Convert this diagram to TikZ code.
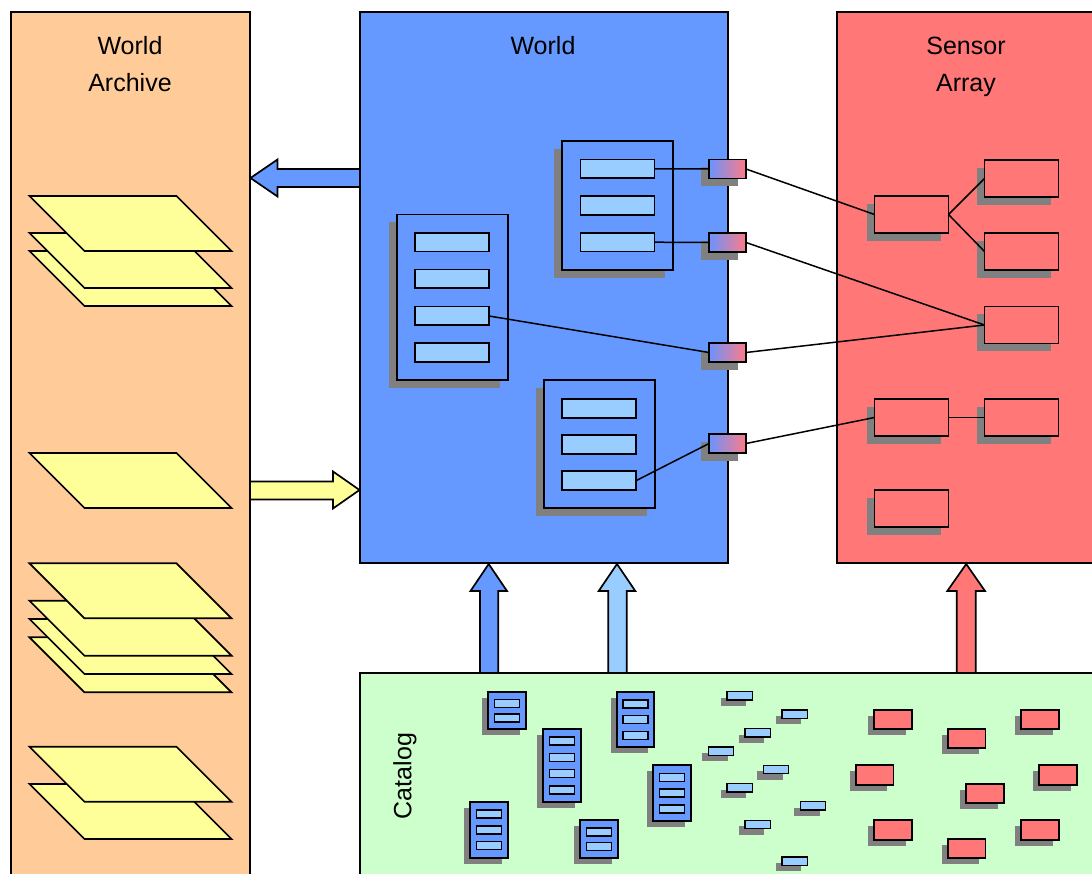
\documentclass[tikz,border=0pt]{standalone}
\usepackage{fontspec}
\setmainfont{Liberation Sans}
\usetikzlibrary{shadows}
\definecolor{archiveC}{HTML}{FFCC99}
\definecolor{worldC}{HTML}{6699FF}
\definecolor{sensorC}{HTML}{FF7777}
\definecolor{catalogC}{HTML}{CCFFCC}
\definecolor{rowC}{HTML}{99CCFF}
\definecolor{yellowC}{HTML}{FFFF99}
\definecolor{shadowC}{HTML}{808080}
\definecolor{connB}{HTML}{6A94FF}
\definecolor{connR}{HTML}{FF7A85}
\newcommand\plate[1]{\draw[para] (29.5,#1) -- ++(147,0) -- ++(55,55) -- ++(-147,0) -- cycle;}
\newcommand\cattab[6]{%
  \node[ctbl, minimum height=#4pt] (#1) at (#2,#3) {};
  \foreach \i in {1,...,#5} \node[crow] (#1r\i) at ({#2+18.7},{#3+#4/2+(\i-(#5+1)/2)*#6}) {};
}
\begin{document}
\begin{tikzpicture}[x=1pt,y=-1pt,
  frame/.style={draw, line width=1.6pt, inner sep=0pt, outer sep=0pt, anchor=north west},
  title/.style={font=\fontsize{25}{30}\selectfont, inner sep=0pt},
  bshadow/.style={drop shadow={shadow xshift=-8pt, shadow yshift=-8pt, fill=shadowC, opacity=1}},
  sshadow/.style={drop shadow={shadow xshift=-6pt, shadow yshift=-6pt, fill=shadowC, opacity=1}},
  tbl/.style={draw, fill=worldC, line width=1.8pt, inner sep=0pt, outer sep=0pt, anchor=north west, bshadow},
  row/.style={draw, fill=rowC, line width=1.8pt, inner sep=0pt, outer sep=0pt, anchor=north west, minimum width=74pt, minimum height=18.8pt},
  conn/.style={draw, line width=1.8pt, left color=connB, right color=connR, inner sep=0pt, outer sep=0pt, anchor=north west, minimum width=37pt, minimum height=19pt, bshadow},
  sbox/.style={draw, fill=sensorC, line width=1.8pt, inner sep=0pt, outer sep=0pt, anchor=north west, minimum width=74pt, minimum height=37pt, bshadow},
  ctbl/.style={draw, fill=worldC, line width=1.8pt, inner sep=0pt, outer sep=0pt, anchor=north west, minimum width=37.4pt, sshadow},
  crow/.style={draw, fill=rowC, line width=1.5pt, inner sep=0pt, outer sep=0pt, minimum width=25pt, minimum height=8pt},
  tinyb/.style={draw, fill=rowC, line width=1.5pt, inner sep=0pt, outer sep=0pt, anchor=north west, minimum width=25.3pt, minimum height=8.3pt, sshadow},
  rsmall/.style={draw, fill=sensorC, line width=1.8pt, inner sep=0pt, outer sep=0pt, anchor=north west, minimum width=37.7pt, minimum height=19.3pt, sshadow},
  wire/.style={line width=1.5pt},
  para/.style={draw, fill=yellowC, line width=1.7pt, line join=miter},
  bigarrow/.style={draw, line width=1.7pt, line join=miter}
]
\useasboundingbox (0,0) rectangle (1092,874);
\clip (0,0) rectangle (1092,874);
\fill[white] (0,0) rectangle (1092,874);

% frames
\node[frame, fill=archiveC, minimum width=239pt, minimum height=880pt] (archive) at (11,12) {};
\node[frame, fill=worldC, minimum width=368pt, minimum height=551pt] (world) at (360,12) {};
\node[frame, fill=sensorC, minimum width=270pt, minimum height=551pt] (sensor) at (837,12) {};
\node[frame, fill=catalogC, minimum width=750pt, minimum height=220pt] (catalog) at (360,673) {};

% titles
\node[title, anchor=base] (archiveT1) at (130,55) {World};
\node[title, anchor=base] (archiveT2) at (130,92) {Archive};
\node[title, anchor=base] (worldT) at (543,55) {World};
\node[title, anchor=base] (sensorT1) at (966,55) {Sensor};
\node[title, anchor=base] (sensorT2) at (966,92) {Array};
\node[title, rotate=90] (catalogT) at (405,776) {Catalog};

% archive plates
\plate{251}\plate{233}\plate{196}
\plate{453}
\plate{637.3}\plate{619}\plate{600.7}\plate{563.3}
\plate{784}\plate{746.7}

% big arrows
\draw[bigarrow, fill=worldC] (360,169) -- (277.5,169) -- (277.5,159.5) -- (250.5,178) -- (277.5,196.5) -- (277.5,187) -- (360,187) -- cycle;
\draw[bigarrow, fill=yellowC] (250,481.5) -- (333,481.5) -- (333,471.5) -- (359.5,490) -- (333,508.5) -- (333,499.5) -- (250,499.5) -- cycle;
\draw[bigarrow, fill=worldC] (480,673) -- (480,591) -- (470.5,591) -- (488.7,564) -- (507,591) -- (498.3,591) -- (498.3,673) -- cycle;
\draw[bigarrow, fill=rowC] (608.3,673) -- (608.3,591) -- (598.7,591) -- (617,564) -- (635.3,591) -- (626.7,591) -- (626.7,673) -- cycle;
\draw[bigarrow, fill=sensorC] (956.7,673) -- (956.7,591) -- (947.3,591) -- (966.2,564) -- (985,591) -- (975.7,591) -- (975.7,673) -- cycle;

% world tables
\node[tbl, minimum width=110.7pt, minimum height=165.5pt] (tA) at (397,214.5) {};
\foreach \i/\y in {1/232.8,2/269.5,3/306.6,4/343.2} \node[row] (tAr\i) at (415,\y) {};
\node[tbl, minimum width=110.7pt, minimum height=129pt] (tB) at (562,141) {};
\foreach \i/\y in {1/159.5,2/196,3/232.8} \node[row] (tBr\i) at (580.5,\y) {};
\node[tbl, minimum width=111pt, minimum height=128pt] (tC) at (544,380) {};
\foreach \i/\y in {1/398.8,2/435,3/471.3} \node[row] (tCr\i) at (562,\y) {};

% connectors
\node[conn] (c1) at (709,159.5) {};
\node[conn] (c2) at (709,233) {};
\node[conn] (c3) at (709,343) {};
\node[conn] (c4) at (709,434) {};

% sensor boxes
\node[sbox] (s1) at (874.5,196) {};
\node[sbox] (s2) at (984.5,160) {};
\node[sbox] (s3) at (984.5,233) {};
\node[sbox] (s4) at (984.5,306.5) {};
\node[sbox] (s5) at (874.5,399) {};
\node[sbox] (s6) at (984.5,399) {};
\node[sbox] (s7) at (874.5,490) {};

% wires
\draw[wire] (tBr1.east) -- (c1.west);
\draw[wire] (tBr3.east) -- (c2.west);
\draw[wire] (tAr3.east) -- (c3.west);
\draw[wire] (tCr3.east) -- (c4.west);
\draw[wire] (c1.east) -- (s1.west);
\draw[wire] (c2.east) -- (s4.west);
\draw[wire] (c3.east) -- (s4.west);
\draw[wire] (c4.east) -- (s5.west);
\draw[wire] (s1.east) -- (s2.west);
\draw[wire] (s1.east) -- (s3.west);
\draw[wire] (s5.east) -- (s6.west);

% catalog contents
\cattab{k1}{488.3}{692}{37.3}{2}{14.5}
\cattab{k2}{543.3}{728.7}{73.6}{4}{16.2}
\cattab{k3}{616.7}{692}{55.3}{3}{15.7}
\cattab{k4}{653.3}{765.3}{55.7}{3}{15.7}
\cattab{k5}{470.3}{802}{55.7}{3}{15.7}
\cattab{k6}{580.3}{820.3}{37.4}{2}{14.5}
\foreach \x/\y [count=\k] in {727/691.7, 782/710, 745/728.7, 708.3/747, 763.3/765.3, 727/783.7, 800.3/801.7, 745/820.3, 782/857}
  \node[tinyb] (b\k) at (\x,\y) {};
\foreach \x/\y [count=\k] in {874/710, 947.7/728.7, 1021/710, 855.7/765.3, 966/783.7, 1039.3/765.3, 874/820.3, 947.7/838.7, 1021/820.3}
  \node[rsmall] (r\k) at (\x,\y) {};
\end{tikzpicture}
\end{document}
